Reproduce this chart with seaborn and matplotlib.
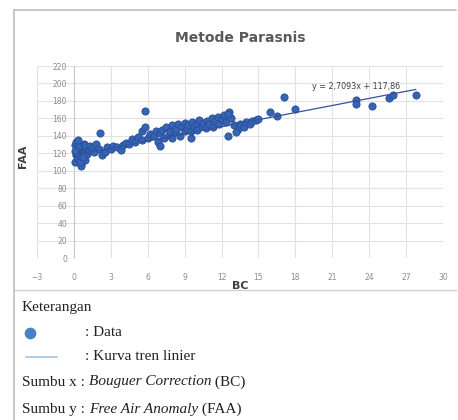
import matplotlib
matplotlib.use("Agg")
import matplotlib.pyplot as plt
import seaborn as sns
import pandas as pd
import numpy as np

# ---- data ----
bc = [0.1, 0.2, 0.3, 0.1, 0.4, 0.5, 0.2, 0.6, 0.3, 0.7, 0.8, 0.5, 0.9, 1.0, 0.2,
      0.4, 0.6, 0.8, 1.1, 1.2, 0.3, 0.5, 0.1, 0.7, 0.9,
      1.3, 1.5, 1.6, 1.8, 2.1, 2.0, 2.3, 2.5,
      2.7, 3.0, 3.2, 3.5, 3.8, 4.0, 4.2, 4.5, 4.7, 5.0, 5.2, 5.5, 5.8, 5.8,
      5.5, 6.0, 6.2, 6.5, 6.7, 6.8, 7.0, 7.2, 7.3, 7.5, 7.7, 7.8, 8.0, 8.2,
      8.3, 8.5, 8.6, 8.8, 9.0, 9.0, 9.2, 9.3, 9.5, 9.6, 9.8, 10.0, 10.0, 10.2,
      10.4, 10.5, 10.7, 10.8, 11.0, 11.2, 11.3, 11.5, 11.7, 11.8, 12.0, 12.2,
      12.4, 12.6, 12.8, 12.5, 7.0, 8.0, 9.5, 12.5,
      13.0, 13.3, 13.5, 13.8, 14.0, 14.3, 14.5, 14.8, 15.0, 13.2,
      15.9, 16.5, 17.1, 18.0,
      22.9, 22.9, 24.2, 25.6, 25.9, 27.8]
faa = [110, 118, 125, 130, 113, 120, 133, 108, 115, 127, 122, 117, 112, 125, 120,
       128, 105, 131, 119, 124, 135, 110, 123, 116, 129,
       128, 126, 121, 131, 143, 125, 118, 122,
       127, 125, 128, 127, 124, 130, 132, 131, 136, 133, 139, 145, 150, 168,
       135, 138, 142, 140, 145, 133, 143, 147, 138, 150, 141, 146, 152, 144,
       148, 154, 140, 150, 145, 155, 148, 152, 146, 156, 150, 153, 147, 158,
       151, 155, 149, 157, 154, 160, 150, 157, 162, 153, 159, 164,
       156, 167, 160, 165, 128, 137, 138, 140,
       152, 148, 154, 150, 156, 153, 157, 158, 159, 144,
       167, 163, 184, 171,
       181, 176, 174, 183, 187, 187]

trend_slope = 2.7093
trend_intercept = 117.86
trend_x = [0.1, 27.8]
equation = "y = 2,7093x + 117,86"

x_ticks = [-3, 0, 3, 6, 9, 12, 15, 18, 21, 24, 27, 30]
y_ticks = [0, 20, 40, 60, 80, 100, 120, 140, 160, 180, 200, 220]
title = "Metode Parasnis"

df = pd.DataFrame({"BC": bc, "FAA": faa})
trend = pd.DataFrame({"BC": trend_x,
                      "FAA": [trend_slope * v + trend_intercept for v in trend_x]})

sns.set_theme(style="white")
plt.rcParams["font.family"] = ["DejaVu Sans"]

fig = plt.figure(figsize=(4.58, 4.20), dpi=100)
ax = fig.add_axes([37 / 458, 1 - 258 / 420, (443 - 37) / 458, (258 - 66) / 420])

sns.scatterplot(data=df, x="BC", y="FAA", ax=ax, s=27, color="#3563B5",
                edgecolor="#284E95", linewidth=0.6, zorder=3, legend=False)
sns.lineplot(data=trend, x="BC", y="FAA", ax=ax, color="#34529A", linewidth=0.9,
             zorder=4)

ax.set_xlim(-3, 30)
ax.set_ylim(0, 220)
ax.set_xticks(x_ticks)
ax.set_yticks(y_ticks)
ax.grid(True, color="#E2E2E2", linewidth=0.8)
ax.set_axisbelow(True)
for s in ["top", "right", "bottom"]:
    ax.spines[s].set_visible(False)
ax.spines["left"].set_position(("data", 0))
ax.spines["left"].set_color("#C8C8C8")
ax.spines["left"].set_linewidth(0.8)
ax.tick_params(axis="y", length=3, width=0.6, color="#C8C8C8", labelsize=5.5,
               labelcolor="#8C8C8C", pad=2, direction="out")
ax.tick_params(axis="x", length=0, labelsize=5.5, labelcolor="#8C8C8C", pad=11)
ax.set_xlabel("BC", fontsize=8, fontweight="bold", color="#404040", labelpad=-1)
ax.set_ylabel("FAA", fontsize=8, fontweight="bold", color="#404040")
ax.yaxis.set_label_coords((28 - 37) / (443 - 37), 0.53)
ax.text(22.9, 196, equation, fontsize=5.8, color="#404040", ha="center",
        va="center", zorder=5)

fig.text(240 / 458, 1 - 38 / 420, title, fontsize=10, fontweight="bold",
         color="#595959", ha="center", va="center")

# overlay axes for frame and notes
ov = fig.add_axes([0, 0, 1, 1], zorder=-1)
ov.set_xlim(0, 458)
ov.set_ylim(420, 0)
ov.axis("off")
ov.plot([14, 456], [10, 10], color="#BDBDBD", lw=1.2)
ov.plot([14, 456], [290, 290], color="#D0D0D0", lw=1.0)
ov.plot([14, 14], [10, 420], color="#BDBDBD", lw=1.2)

serif = "Liberation Serif"
fs = 11
ov.text(22, 307, "Keterangan", fontsize=fs, family=serif, va="center",
        color="#222222")
ov.scatter([30], [333], s=55, color="#4A80C4", zorder=3)
ov.text(85, 333, ": Data", fontsize=fs, family=serif, va="center", color="#222222")
ov.plot([26, 57], [357, 357], color="#9DC3E6", lw=1.2)
ov.text(85, 357, ": Kurva tren linier", fontsize=fs, family=serif, va="center",
        color="#222222")

def chained(y, parts):
    prev = None
    for txt, style in parts:
        if prev is None:
            prev = ov.text(22, y, txt, fontsize=fs, family=serif, style=style,
                           va="center", color="#222222")
        else:
            prev = ov.annotate(txt, xy=(1, 0.5), xycoords=prev, va="center",
                               ha="left", fontsize=fs, family=serif,
                               style=style, color="#222222")

chained(382, [("Sumbu x : ", "normal"), ("Bouguer Correction", "italic"),
              (" (BC)", "normal")])
chained(409, [("Sumbu y : ", "normal"), ("Free Air Anomaly", "italic"),
              (" (FAA)", "normal")])

fig.savefig("out.png", dpi=100)
